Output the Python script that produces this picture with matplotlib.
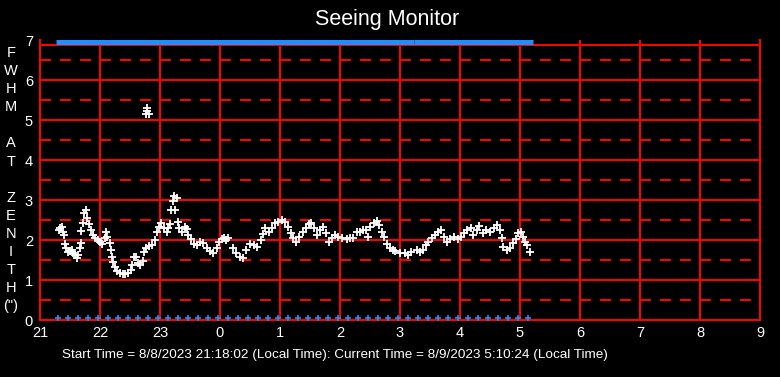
import matplotlib.pyplot as plt

# seeing samples: hour of night (continues past 24) and FWHM at zenith in arcsec
hours = [21.31, 21.33, 21.36, 21.38, 21.40, 21.42, 21.44, 21.47, 21.50, 21.53,
         21.55, 21.58, 21.61, 21.64, 21.66, 21.68, 21.69, 21.71, 21.74, 21.76,
         21.79, 21.82, 21.85, 21.88, 21.92, 21.97, 22.00, 22.03, 22.08, 22.10,
         22.11, 22.16, 22.18, 22.20, 22.22, 22.25, 22.28, 22.33, 22.38, 22.42,
         22.47, 22.51, 22.53, 22.57, 22.60, 22.64, 22.67, 22.71, 22.74, 22.76,
         22.82, 22.87, 22.92, 22.95, 22.98, 23.02, 23.06, 23.11, 23.14, 23.17,
         23.18, 23.21, 23.24, 23.25, 23.28, 23.30, 23.32, 23.36, 23.41, 23.45,
         23.47, 23.52, 23.56, 23.61, 23.67, 23.72, 23.78, 23.83, 23.89, 23.95,
         23.98, 24.04, 24.06, 24.10, 24.14, 24.21, 24.27, 24.33, 24.38, 24.43,
         24.50, 24.56, 24.61, 24.68, 24.71, 24.75, 24.81, 24.86, 24.92, 24.97,
         25.03, 25.08, 25.14, 25.18, 25.22, 25.27, 25.32, 25.38, 25.43, 25.49,
         25.52, 25.56, 25.61, 25.67, 25.72, 25.76, 25.82, 25.86, 25.92, 25.97,
         26.04, 26.11, 26.17, 26.22, 26.28, 26.33, 26.39, 26.44, 26.47, 26.50,
         26.56, 26.61, 26.65, 26.70, 26.74, 26.78, 26.83, 26.89, 26.92, 27.00,
         27.08, 27.14, 27.19, 27.28, 27.34, 27.39, 27.43, 27.47, 27.53, 27.58,
         27.64, 27.69, 27.73, 27.79, 27.84, 27.90, 27.96, 28.01, 28.07, 28.12,
         28.18, 28.22, 28.28, 28.32, 28.39, 28.44, 28.50, 28.56, 28.61, 28.66,
         28.70, 28.72, 28.78, 28.83, 28.89, 28.94, 28.97, 29.01, 29.05, 29.08,
         29.12, 29.17]
fwhm = [2.25, 2.30, 2.32, 2.20, 2.12, 1.89, 1.79, 1.71, 1.72, 1.75,
        1.67, 1.62, 1.56, 1.63, 1.79, 1.92, 2.22, 2.42, 2.67, 2.75,
        2.54, 2.39, 2.25, 2.12, 2.04, 2.00, 1.96, 1.89, 2.04, 2.19,
        2.08, 1.92, 1.75, 1.58, 1.46, 1.33, 1.23, 1.17, 1.15, 1.14,
        1.17, 1.25, 1.37, 1.58, 1.58, 1.42, 1.37, 1.47, 1.71, 1.81,
        1.85, 1.87, 2.00, 2.19, 2.33, 2.42, 2.31, 2.21, 2.31, 2.39,
        2.75, 2.97, 3.11, 2.75, 3.04, 2.44, 2.31, 2.21, 2.33, 2.28,
        2.12, 2.02, 1.89, 1.87, 1.96, 1.92, 1.81, 1.72, 1.67, 1.79,
        1.96, 2.02, 2.05, 2.00, 2.04, 1.79, 1.67, 1.58, 1.54, 1.75,
        1.89, 1.87, 1.83, 2.00, 2.14, 2.29, 2.21, 2.29, 2.42, 2.44,
        2.50, 2.46, 2.33, 2.17, 2.04, 1.96, 2.08, 2.21, 2.31, 2.39,
        2.42, 2.29, 2.12, 2.25, 2.33, 2.17, 1.96, 2.04, 2.12, 2.08,
        2.06, 2.02, 2.04, 2.06, 2.21, 2.21, 2.25, 2.25, 2.08, 2.33,
        2.42, 2.48, 2.37, 2.21, 2.08, 1.89, 1.79, 1.75, 1.72, 1.67,
        1.67, 1.63, 1.71, 1.75, 1.71, 1.75, 1.87, 1.96, 2.04, 2.12,
        2.21, 2.25, 2.08, 1.96, 2.02, 2.08, 2.02, 2.08, 2.17, 2.25,
        2.29, 2.12, 2.25, 2.36, 2.17, 2.25, 2.21, 2.29, 2.37, 2.25,
        2.04, 1.83, 1.75, 1.79, 1.92, 2.02, 2.17, 2.19, 2.08, 1.94,
        1.87, 1.71]

# isolated high readings around 22:47
outlier_hours = [22.76, 22.78, 22.81, 22.79]
outlier_fwhm = [5.15, 5.22, 5.15, 5.31]

# blue status markers every 10 min
status_times = ["21:18", "21:28", "21:38", "21:48", "21:58", "22:08", "22:18", "22:28",
                "22:38", "22:48", "22:58", "23:08", "23:18", "23:28", "23:38", "23:48",
                "23:58", "0:08", "0:18", "0:28", "0:38", "0:48", "0:58", "1:08",
                "1:18", "1:28", "1:38", "1:48", "1:58", "2:08", "2:18", "2:28",
                "2:38", "2:48", "2:58", "3:08", "3:18", "3:28", "3:38", "3:48",
                "3:58", "4:08", "4:18", "4:28", "4:38", "4:48", "4:58", "5:08"]

x_ticks = [21, 22, 23, 24, 25, 26, 27, 28, 29, 30, 31, 32, 33]
x_labels = ["21", "22", "23", "0", "1", "2", "3", "4", "5", "6", "7", "8", "9"]
y_ticks = [0, 1, 2, 3, 4, 5, 6, 7]

footer = "Start Time = 8/8/2023 21:18:02 (Local Time): Current Time = 8/9/2023 5:10:24 (Local Time)"


def to_hour(s):
    h, m = s.split(":")
    h = int(h)
    if h < 12:
        h += 24
    return h + int(m) / 60


status_hours = [to_hour(s) for s in status_times]

plt.rcParams['font.family'] = ['Liberation Sans', 'DejaVu Sans']
plt.rcParams['lines.scale_dashes'] = False

fig = plt.figure(figsize=(7.8, 3.77), dpi=100, facecolor='black')
ax = fig.add_axes([40 / 780, 1 - 320 / 377, 720 / 780, 280 / 377])
ax.set_facecolor('black')
ax.set_xlim(21, 33)
ax.set_ylim(0, 7)

red = '#ff0000'
lw = 1.45
for h in x_ticks[1:-1]:
    ax.axvline(h, color=red, lw=lw, zorder=1)
for v in y_ticks[1:-1]:
    ax.axhline(v, color=red, lw=lw, zorder=1)
    ax.axhline(v - 0.5, color=red, lw=lw, dashes=(7.9, 6.5), zorder=1)
ax.axhline(6.5, color=red, lw=lw, dashes=(7.9, 6.5), zorder=1)
ax.axhline(6.875, color=red, lw=lw, zorder=1)

for side in ['left', 'right', 'bottom']:
    ax.spines[side].set_color(red)
    ax.spines[side].set_linewidth(lw)
ax.spines['top'].set_visible(False)

ax.plot(hours, fwhm, linestyle='none', marker='+', color='white',
        markersize=5.5, markeredgewidth=1.3, zorder=3)
ax.plot(outlier_hours, outlier_fwhm, linestyle='none', marker='+', color='white',
        markersize=5.5, markeredgewidth=1.3, zorder=3)

blue = '#1e8fff'
ax.plot(status_hours, [0.06] * len(status_hours), linestyle='none', marker='+',
        color=blue, markersize=5, markeredgewidth=1.2, clip_on=False, zorder=4)
# top band: one mark per sample
ax.plot(hours, [6.94] * len(hours), linestyle='none', marker='_',
        color=blue, markersize=4.5, markeredgewidth=3.6, clip_on=False, zorder=4)

ax.set_xticks(x_ticks)
ax.set_xticklabels(x_labels)
ax.set_yticks(y_ticks)
ax.tick_params(colors='white', length=0, labelsize=10.5, pad=4)
ax.tick_params(axis='y', pad=5)

fig.text(0.496, 1 - 20 / 377, "Seeing Monitor", color='white', fontsize=15.5,
         ha='center', va='center')

ylabel = ["F", "W", "H", "M", "", "A", "T", "", "Z", "E", "N", "I", "T", "H", '(")']
for i, ch in enumerate(ylabel):
    fig.text(11 / 780, 1 - (53 + 18.1 * i) / 377, ch, color='white', fontsize=10.5,
             ha='center', va='center')

fig.text(62 / 780, 1 - 355 / 377, footer, color='white', fontsize=9.7,
         ha='left', va='center')

fig.savefig('out.png', dpi=100, facecolor='black')
